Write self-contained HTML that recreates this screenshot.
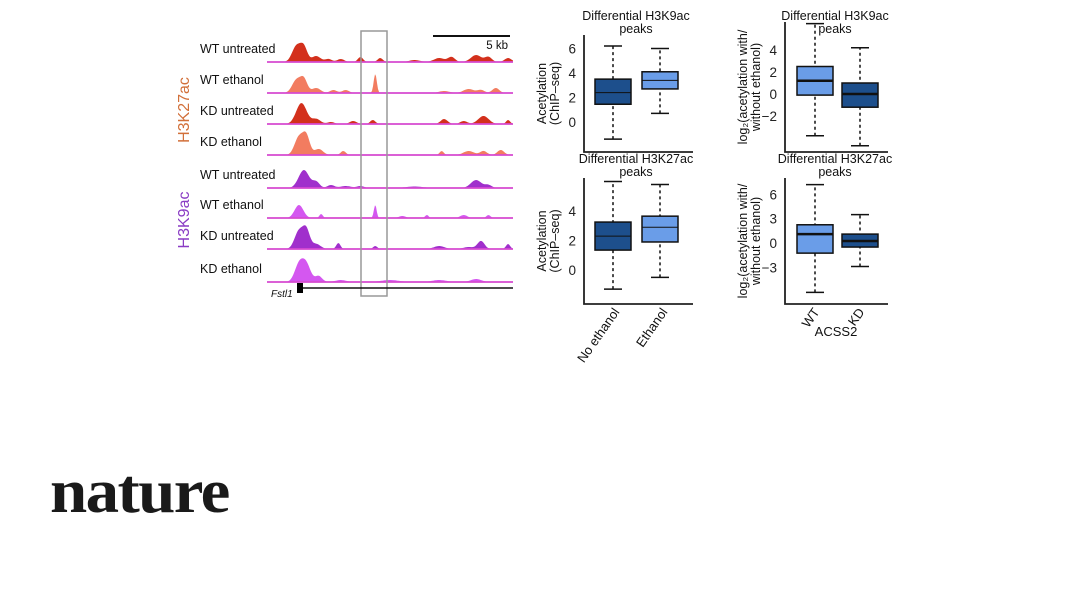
<!DOCTYPE html>
<html><head><meta charset="utf-8"><style>
body{margin:0;background:#fff;width:1066px;height:600px;overflow:hidden}
svg text{font-family:"Liberation Sans",Arial,sans-serif}
</style></head><body>
<svg id="fig" width="1066" height="600" xmlns="http://www.w3.org/2000/svg">
<g id="tracks"></g>
<g id="boxes"></g>
<text x="50" y="512" font-weight="bold" font-size="62" transform="translate(50,0) scale(1.08,1) translate(-50,0)" fill="#1a1a1a" style="font-family:'Liberation Serif',serif;letter-spacing:-1.5px">nature</text>
</svg>
<script>
const NS="http://www.w3.org/2000/svg";
function el(tag,attrs,parent,txt){const e=document.createElementNS(NS,tag);for(const k in attrs)e.setAttribute(k,attrs[k]);if(txt!==undefined)e.textContent=txt;parent.appendChild(e);return e;}

// ---- Track data ----
const trackLabels=["WT untreated","WT ethanol","KD untreated","KD ethanol","WT untreated","WT ethanol","KD untreated","KD ethanol"];
const trackColors=["#d3301c","#f27c60","#d3301c","#f27c60","#a02fcc","#d457f0","#a02fcc","#d457f0"];
// peaks: [position 0-1 along locus, height px, half-width fraction]
const trackPeaks=[
 [[0.12,16,0.025],[0.15,14,0.02],[0.2,6,0.025],[0.25,3,0.02],[0.3,3,0.02],[0.38,5,0.015],[0.46,4,0.015],[0.6,2,0.03],[0.7,4,0.03],[0.75,5,0.02],[0.85,7,0.03],[0.9,5,0.02],[0.98,4,0.02]],
 [[0.12,13,0.025],[0.15,13,0.02],[0.2,5,0.025],[0.27,3,0.02],[0.32,3,0.02],[0.44,19,0.009],[0.72,2,0.03],[0.82,4,0.03],[0.87,3,0.02],[0.93,5,0.02]],
 [[0.14,21,0.03],[0.2,5,0.025],[0.26,2,0.02],[0.35,3,0.02],[0.43,4,0.015],[0.72,5,0.02],[0.8,3,0.02],[0.88,8,0.03],[0.98,4,0.012]],
 [[0.13,18,0.025],[0.16,18,0.02],[0.21,6,0.025],[0.31,4,0.015],[0.71,4,0.012],[0.82,4,0.03],[0.88,4,0.02],[0.95,5,0.02]],
 [[0.15,18,0.03],[0.2,6,0.02],[0.26,3,0.02],[0.32,2,0.03],[0.38,2,0.02],[0.6,1.5,0.05],[0.85,8,0.03],[0.9,3,0.02]],
 [[0.13,13,0.025],[0.22,4,0.01],[0.44,13,0.008],[0.55,2,0.02],[0.65,3,0.01],[0.8,3,0.02],[0.9,3,0.012]],
 [[0.13,18,0.025],[0.16,18,0.02],[0.2,5,0.025],[0.29,6,0.012],[0.44,3,0.012],[0.7,3,0.03],[0.82,2,0.03],[0.87,8,0.02],[0.98,5,0.012]],
 [[0.13,17,0.025],[0.16,17,0.025],[0.21,6,0.02],[0.3,2,0.03],[0.5,2,0.05],[0.7,2,0.04],[0.85,3,0.03]]
];
const trackBase=[62,93,124,155,188,218,249,282];
const tg=document.getElementById('tracks');
const TX0=267,TX1=513;
trackLabels.forEach((lab,i)=>{
  const t=el('text',{x:200,y:trackBase[i]-9,'font-size':12.5,fill:'#111'},tg,lab);
  
  
  let d=`M${TX0},${trackBase[i]}`;
  for(let x=TX0;x<=TX1;x+=1){const f=(x-TX0)/(TX1-TX0);let h=0;
    trackPeaks[i].forEach(p=>{const z=(f-p[0])/p[2];h+=p[1]*Math.exp(-z*z);});
    d+=` L${x},${(trackBase[i]-h).toFixed(1)}`;}
  d+=` L${TX1},${trackBase[i]} Z`;
  const p=el('path',{d:d,fill:trackColors[i]},tg);
  
  
  const b=el('line',{x1:TX0,x2:TX1,y1:trackBase[i],y2:trackBase[i],stroke:'#d64ad0','stroke-width':1.8},tg);
  
  
});
let g1=el('text',{x:0,y:0,'font-size':16,fill:'#d2703a',transform:'translate(189,110) rotate(-90)','text-anchor':'middle'},tg,'H3K27ac');

let g2=el('text',{x:0,y:0,'font-size':16,fill:'#8a3cc4',transform:'translate(189,220) rotate(-90)','text-anchor':'middle'},tg,'H3K9ac');

let hl=el('rect',{x:361,y:31,width:26,height:265,fill:'none',stroke:'#999','stroke-width':1.5},tg);

let sb=el('line',{x1:433,x2:510,y1:36,y2:36,stroke:'#111','stroke-width':2},tg);

let sbt=el('text',{x:508,y:49,'font-size':11.5,'text-anchor':'end',fill:'#111'},tg,'5 kb');

let gl=el('line',{x1:300,x2:513,y1:288,y2:288,stroke:'#111','stroke-width':1.5},tg);

let gb=el('rect',{x:297,y:283,width:6,height:10,fill:'#000'},tg);

let gt=el('text',{x:271,y:297,'font-size':10,'font-style':'italic',fill:'#111'},tg,'Fstl1');


// ---- Box plot data ----
const panelTitles=["Differential H3K9ac","Differential H3K9ac","Differential H3K27ac","Differential H3K27ac"];
const p1Ticks=[0,2,4,6], p2Ticks=[-2,0,2,4], p3Ticks=[0,2,4], p4Ticks=[-3,0,3,6];
// [whiskerLow, Q1, median, Q3, whiskerHigh]
const p1Boxes=[[-1.4,1.45,2.4,3.5,6.2],[0.7,2.7,3.4,4.1,6.0]];
const p2Boxes=[[-3.8,-0.1,1.2,2.5,6.4],[-4.7,-1.2,0.0,1.0,4.2]];
const p3Boxes=[[-1.3,1.35,2.3,3.25,6.0],[-0.5,1.9,2.9,3.65,5.8]];
const p4Boxes=[[-6.1,-1.25,1.1,2.25,7.2],[-2.9,-0.5,0.25,1.1,3.5]];
const DARK="#1d4f8c",LIGHT="#6a9de8";
const panels=[
 {ax:584,ay:152,right:693,top:35,zero:122,ppu:12.25,ticks:p1Ticks,boxes:p1Boxes,cx:[613,660],fills:[DARK,LIGHT],medw:1,tx:636,ty:20,ylab:['Acetylation','(ChIP–seq)']},
 {ax:785,ay:152,right:888,top:22,zero:94,ppu:11,ticks:p2Ticks,boxes:p2Boxes,cx:[815,860],fills:[LIGHT,DARK],medw:2.5,tx:835,ty:20,ylab:['log₂(acetylation with/','without ethanol)']},
 {ax:584,ay:304,right:693,top:178,zero:270,ppu:14.75,ticks:p3Ticks,boxes:p3Boxes,cx:[613,660],fills:[DARK,LIGHT],medw:1,tx:636,ty:163,ylab:['Acetylation','(ChIP–seq)']},
 {ax:785,ay:304,right:888,top:178,zero:243,ppu:8.1,ticks:p4Ticks,boxes:p4Boxes,cx:[815,860],fills:[LIGHT,DARK],medw:2.5,tx:835,ty:163,ylab:['log₂(acetylation with/','without ethanol)']}
];
const bg=document.getElementById('boxes');
panels.forEach((P,pi)=>{
  const y=v=>P.zero-v*P.ppu;
  const g=el('g',{},bg);
  let t=el('text',{x:P.tx,y:P.ty,'font-size':12.5,'text-anchor':'middle',fill:'#111'},g,panelTitles[pi]);
  
  let t2=el('text',{x:P.tx,y:P.ty+13,'font-size':12.5,'text-anchor':'middle',fill:'#111'},g,'peaks');
  
  let ax=el('path',{d:`M${P.ax},${P.top} L${P.ax},${P.ay} L${P.right},${P.ay}`,fill:'none',stroke:'#222','stroke-width':1.8},g);
  
  P.ticks.forEach(v=>{
    let tk=el('text',{x:P.ax-8,y:y(v)+5,'font-size':13.5,'text-anchor':'end',fill:'#222'},g,v<0?'−'+(-v):String(v));
    
  });
  P.ylab.forEach((l,k)=>{
    let yl=el('text',{x:0,y:0,'font-size':12.5,'text-anchor':'middle',fill:'#111',transform:`translate(${P.ax-38+k*13},${(P.top+P.ay)/2}) rotate(-90)`},g,l);
    
  });
  P.boxes.forEach((b,bi)=>{
    const cx=P.cx[bi],hw=18;
    let w=el('line',{x1:cx,x2:cx,y1:y(b[0]),y2:y(b[4]),stroke:'#111','stroke-width':1.5,'stroke-dasharray':'3,3'},g);
    
    [b[0],b[4]].forEach(v=>{let c=el('line',{x1:cx-9,x2:cx+9,y1:y(v),y2:y(v),stroke:'#111','stroke-width':1.5},g);
      });
    let r=el('rect',{x:cx-hw,y:y(b[3]),width:hw*2,height:y(b[1])-y(b[3]),fill:P.fills[bi],stroke:'#111','stroke-width':1.5},g);
    
    let m=el('line',{x1:cx-hw,x2:cx+hw,y1:y(b[2]),y2:y(b[2]),stroke:'#111','stroke-width':P.medw},g);
    
  });
});
const leftCats=["No ethanol","Ethanol"], rightCats=["WT","KD"];
leftCats.forEach((c,i)=>{
  let t=el('text',{x:0,y:0,'font-size':13,'text-anchor':'end',fill:'#111',transform:`translate(${[620,668][i]},312) rotate(-55)`},bg,c);
  
});
rightCats.forEach((c,i)=>{
  let t=el('text',{x:0,y:0,'font-size':13,'text-anchor':'end',fill:'#111',transform:`translate(${[820,865][i]},312) rotate(-55)`},bg,c);
  
});
let xl=el('text',{x:836,y:336,'font-size':13,'text-anchor':'middle',fill:'#111'},bg,'ACSS2');

</script>
</body></html>
